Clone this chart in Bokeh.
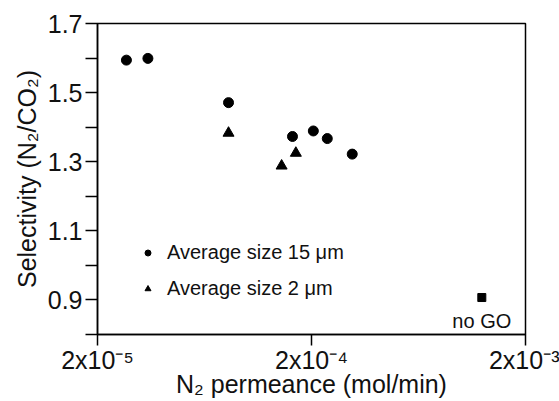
from bokeh.plotting import figure
from bokeh.models import Range1d, FixedTicker, Legend, LegendItem
from bokeh.core.properties import value
from bokeh.embed import file_html
from bokeh.resources import INLINE

# Data
perm_15um = [2.73e-5, 3.44e-5, 8.19e-5, 1.63e-4, 2.04e-4, 2.37e-4, 3.10e-4]
sel_15um = [1.594, 1.599, 1.471, 1.373, 1.389, 1.367, 1.322]
perm_2um = [8.19e-5, 1.45e-4, 1.69e-4]
sel_2um = [1.383, 1.288, 1.325]
perm_nogo = [1.25e-3]
sel_nogo = [0.907]

x_ticks = [2e-5, 2e-4, 2e-3]
x_tick_labels = ["2x10⁻⁵", "2x10⁻⁴", "2x10⁻³"]
y_major = [0.9, 1.1, 1.3, 1.5, 1.7]
y_minor = [0.8, 1.0, 1.2, 1.4, 1.6]
y_tick_labels = ["0.9", "1.1", "1.3", "1.5", "1.7"]

FONT = "Liberation Sans"

p = figure(width=559, height=401, x_axis_type="log",
           x_range=Range1d(2e-5, 2e-3), y_range=Range1d(0.8, 1.7),
           output_backend="svg", toolbar_location=None,
           min_border_left=97, min_border_top=23, min_border_right=34,
           min_border_bottom=67)
p.xgrid.visible = False
p.ygrid.visible = False
p.outline_line_color = "black"
p.outline_line_width = 1.5
p.background_fill_color = "white"
p.border_fill_color = "white"

r15 = p.scatter(perm_15um, sel_15um, marker="circle", size=10,
                fill_color="black", line_color="black")
r2 = p.scatter(perm_2um, sel_2um, marker="triangle", size=11,
               fill_color="black", line_color="black")
p.scatter(perm_nogo, sel_nogo, marker="square", size=8,
          fill_color="black", line_color="black")
p.text(perm_nogo, sel_nogo, text=["no GO"], y_offset=12,
       text_align="center", text_baseline="top", text_font=value(FONT),
       text_font_size="20px", text_color="#111")

# Axes
xa = p.xaxis[0]
xa.ticker = FixedTicker(ticks=x_ticks, minor_ticks=[])
xa.major_label_overrides = dict(zip(x_ticks, x_tick_labels))
ya = p.yaxis[0]
ya.ticker = FixedTicker(ticks=y_major, minor_ticks=y_minor)
ya.major_label_overrides = dict(zip(y_major, y_tick_labels))

for ax in (xa, ya):
    ax.axis_line_color = "black"
    ax.axis_line_width = 1.5
    ax.major_tick_line_color = "black"
    ax.major_tick_line_width = 1.5
    ax.minor_tick_line_color = "black"
    ax.minor_tick_line_width = 1.5
    ax.major_tick_in = 0
    ax.minor_tick_in = 0
    ax.major_label_text_font = FONT
    ax.major_label_text_font_size = "25px"
    ax.major_label_text_color = "#111"
    ax.axis_label_text_font = FONT
    ax.axis_label_text_font_size = "25px"
    ax.axis_label_text_font_style = "normal"
    ax.axis_label_text_color = "#111"

xa.major_tick_out = 11
xa.minor_tick_out = 0
xa.major_label_standoff = 0
xa.axis_label = "N₂ permeance (mol/min)"
xa.axis_label_standoff = -7

ya.major_tick_out = 12
ya.minor_tick_out = 12
ya.major_label_standoff = 3
ya.axis_label = "Selectivity (N₂/CO₂)"
ya.axis_label_standoff = 4

legend = Legend(items=[LegendItem(label="Average size 15 μm", renderers=[r15]),
                       LegendItem(label="Average size 2 μm", renderers=[r2])],
                location=(43, 34), padding=0, margin=0, spacing=13,
                glyph_width=15, glyph_height=15, label_standoff=12,
                label_text_font=FONT, label_text_font_size="20px",
                label_text_color="#111", border_line_color=None,
                background_fill_alpha=0)
p.add_layout(legend)

open("out.html", "w").write(file_html(p, INLINE))
